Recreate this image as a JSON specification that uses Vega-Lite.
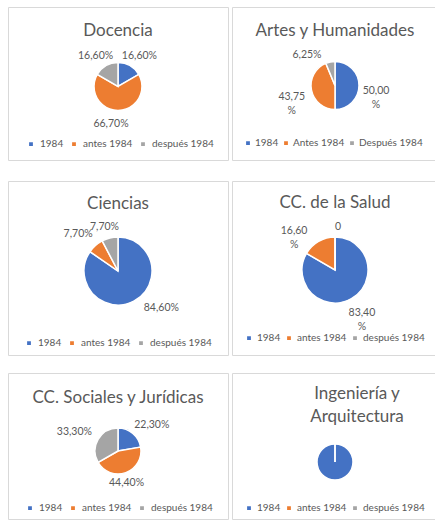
{
  "$schema": "https://vega.github.io/schema/vega-lite/v6.json",
  "background": "white",
  "padding": {"left": 7, "top": 6, "right": 0, "bottom": 0},
  "config": {
    "font": "Lato",
    "view": {"stroke": "#d9d9d9", "strokeWidth": 1},
    "style": {"cell": {"stroke": "#d9d9d9", "strokeWidth": 1}},
    "concat": {"spacing": 2},
    "title": {"fontSize": 17, "fontWeight": "normal", "color": "#595959", "anchor": "middle", "baseline": "middle", "frame": "group"},
    "legend": {"orient": "none", "direction": "horizontal", "title": null, "symbolType": "square", "symbolSize": 28, "symbolStrokeWidth": 0, "labelFontSize": 10, "labelColor": "#595959", "labelOffset": 4, "columnPadding": 4},
    "text": {"fontSize": 10.5, "color": "#595959", "lineBreak": "\n", "lineHeight": 14},
    "arc": {"stroke": "white", "strokeWidth": 1.5}
  },
  "data": {"values": [
    {"panel": "Docencia", "cat": "1984", "value": 16.6, "label": "16,60%"},
    {"panel": "Docencia", "cat": "antes 1984", "value": 66.7, "label": "66,70%"},
    {"panel": "Docencia", "cat": "después 1984", "value": 16.6, "label": "16,60%"},
    {"panel": "Artes", "cat": "1984", "value": 50, "label": "50,00\n%"},
    {"panel": "Artes", "cat": "Antes 1984", "value": 43.75, "label": "43,75\n%"},
    {"panel": "Artes", "cat": "Después 1984", "value": 6.25, "label": "6,25%"},
    {"panel": "Ciencias", "cat": "1984", "value": 84.6, "label": "84,60%"},
    {"panel": "Ciencias", "cat": "antes 1984", "value": 7.7, "label": "7,70%"},
    {"panel": "Ciencias", "cat": "después 1984", "value": 7.7, "label": "7,70%"},
    {"panel": "Salud", "cat": "1984", "value": 83.4, "label": "83,40\n%"},
    {"panel": "Salud", "cat": "antes 1984", "value": 16.6, "label": "16,60\n%"},
    {"panel": "Salud", "cat": "después 1984", "value": 0, "label": "0"},
    {"panel": "Sociales", "cat": "1984", "value": 22.3, "label": "22,30%"},
    {"panel": "Sociales", "cat": "antes 1984", "value": 44.4, "label": "44,40%"},
    {"panel": "Sociales", "cat": "después 1984", "value": 33.3, "label": "33,30%"},
    {"panel": "Ingenieria", "cat": "1984", "value": 100, "label": ""},
    {"panel": "Ingenieria", "cat": "antes 1984", "value": 0, "label": ""},
    {"panel": "Ingenieria", "cat": "después 1984", "value": 0, "label": ""}
  ]},
  "spacing": 19,
  "resolve": {"scale": {"color": "independent", "theta": "independent"}, "legend": {"color": "independent"}},
  "vconcat": [
    {
      "resolve": {"scale": {"color": "independent", "theta": "independent"}, "legend": {"color": "independent"}},
      "hconcat": [
        {
          "width": 220, "height": 153,
          "view": {"stroke": "#d9d9d9"},
          "title": {"text": "Docencia", "offset": -33},
          "transform": [{"filter": "datum.panel == 'Docencia'"}],
          "encoding": {"theta": {"field": "value", "type": "quantitative", "stack": true}, "order": {"field": "cat"}},
          "layer": [
            {"mark": {"type": "arc", "outerRadius": 24, "yOffset": 3},
             "encoding": {"color": {"field": "cat", "type": "nominal", "scale": {"domain": ["1984", "antes 1984", "después 1984"], "range": ["#4472C4", "#ED7D31", "#A5A5A5"]}, "legend": {"legendX": 18, "legendY": 132}}}},
            {"mark": {"type": "text", "radius": 37, "yOffset": 3, "dx": 3, "dy": 2},
             "encoding": {"detail": {"field": "cat"}, "text": {"condition": {"test": "datum.cat == '1984'", "field": "label"}, "value": ""}}},
            {"mark": {"type": "text", "radius": 37, "yOffset": 3, "dx": -7},
             "encoding": {"detail": {"field": "cat"}, "text": {"condition": {"test": "lower(datum.cat) == 'antes 1984'", "field": "label"}, "value": ""}}},
            {"mark": {"type": "text", "radius": 37, "yOffset": 3, "dx": -4, "dy": 2},
             "encoding": {"detail": {"field": "cat"}, "text": {"condition": {"test": "lower(datum.cat) == 'después 1984'", "field": "label"}, "value": ""}}}
          ]
        },
        {
          "width": 206, "height": 153,
          "view": {"stroke": "#d9d9d9"},
          "title": {"text": "Artes y Humanidades", "offset": -33},
          "transform": [{"filter": "datum.panel == 'Artes'"}],
          "encoding": {"theta": {"field": "value", "type": "quantitative", "stack": true}, "order": {"field": "cat"}},
          "layer": [
            {"mark": {"type": "arc", "outerRadius": 24, "yOffset": 2},
             "encoding": {"color": {"field": "cat", "type": "nominal", "scale": {"domain": ["1984", "Antes 1984", "Después 1984"], "range": ["#4472C4", "#ED7D31", "#A5A5A5"]}, "legend": {"legendX": 11, "legendY": 131, "labelOffset": 2, "columnPadding": 1}}}},
            {"mark": {"type": "text", "radius": 41, "yOffset": 2, "dy": 5},
             "encoding": {"detail": {"field": "cat"}, "text": {"condition": {"test": "datum.cat == '1984'", "field": "label"}, "value": ""}}},
            {"mark": {"type": "text", "radius": 41, "yOffset": 2, "dx": -3, "dy": 4},
             "encoding": {"detail": {"field": "cat"}, "text": {"condition": {"test": "lower(datum.cat) == 'antes 1984'", "field": "label"}, "value": ""}}},
            {"mark": {"type": "text", "radius": 41, "yOffset": 2, "dx": -20, "dy": 10},
             "encoding": {"detail": {"field": "cat"}, "text": {"condition": {"test": "lower(datum.cat) == 'después 1984'", "field": "label"}, "value": ""}}}
          ]
        }
      ]
    },
    {
      "spacing": 16,
      "resolve": {"scale": {"color": "independent", "theta": "independent"}, "legend": {"color": "independent"}},
      "vconcat": [
        {
          "resolve": {"scale": {"color": "independent", "theta": "independent"}, "legend": {"color": "independent"}},
          "hconcat": [
            {
              "width": 220, "height": 174,
              "view": {"stroke": "#d9d9d9"},
              "title": {"text": "Ciencias", "offset": -32},
              "transform": [{"filter": "datum.panel == 'Ciencias'"}],
              "encoding": {"theta": {"field": "value", "type": "quantitative", "stack": true}, "order": {"field": "cat"}},
              "layer": [
                {"mark": {"type": "arc", "outerRadius": 34, "yOffset": 3},
                 "encoding": {"color": {"field": "cat", "type": "nominal", "scale": {"domain": ["1984", "antes 1984", "después 1984"], "range": ["#4472C4", "#ED7D31", "#A5A5A5"]}, "legend": {"legendX": 16, "legendY": 157}}}},
                {"mark": {"type": "text", "radius": 48, "yOffset": 3, "dx": 21, "dy": -5},
                 "encoding": {"detail": {"field": "cat"}, "text": {"condition": {"test": "datum.cat == '1984'", "field": "label"}, "value": ""}}},
                {"mark": {"type": "text", "radius": 48, "yOffset": 3, "dx": -8, "dy": -1},
                 "encoding": {"detail": {"field": "cat"}, "text": {"condition": {"test": "lower(datum.cat) == 'antes 1984'", "field": "label"}, "value": ""}}},
                {"mark": {"type": "text", "radius": 48, "yOffset": 3, "dx": -2, "dy": 3},
                 "encoding": {"detail": {"field": "cat"}, "text": {"condition": {"test": "lower(datum.cat) == 'después 1984'", "field": "label"}, "value": ""}}}
              ]
            },
            {
              "width": 206, "height": 174,
              "view": {"stroke": "#d9d9d9"},
              "title": {"text": "CC. de la Salud", "offset": -31},
              "transform": [{"filter": "datum.panel == 'Salud'"}],
              "encoding": {"theta": {"field": "value", "type": "quantitative", "stack": true}, "order": {"field": "cat"}},
              "layer": [
                {"mark": {"type": "arc", "outerRadius": 33, "yOffset": 2},
                 "encoding": {"color": {"field": "cat", "type": "nominal", "scale": {"domain": ["1984", "antes 1984", "después 1984"], "range": ["#4472C4", "#ED7D31", "#A5A5A5"]}, "legend": {"legendX": 12, "legendY": 152, "labelOffset": 3, "columnPadding": 2}}}},
                {"mark": {"type": "text", "radius": 48, "yOffset": 2, "dx": 3, "dy": 1},
                 "encoding": {"detail": {"field": "cat"}, "text": {"condition": {"test": "datum.cat == '1984'", "field": "label"}, "value": ""}}},
                {"mark": {"type": "text", "radius": 48, "yOffset": 2, "dx": -17, "dy": 3},
                 "encoding": {"detail": {"field": "cat"}, "text": {"condition": {"test": "lower(datum.cat) == 'antes 1984'", "field": "label"}, "value": ""}}},
                {"mark": {"type": "text", "radius": 48, "yOffset": 2, "dx": 3, "dy": 5},
                 "encoding": {"detail": {"field": "cat"}, "text": {"condition": {"test": "lower(datum.cat) == 'después 1984'", "field": "label"}, "value": ""}}}
              ]
            }
          ]
        },
        {
          "resolve": {"scale": {"color": "independent", "theta": "independent"}, "legend": {"color": "independent"}},
          "hconcat": [
            {
              "width": 220, "height": 146,
              "view": {"stroke": "#d9d9d9"},
              "title": {"text": "CC. Sociales y Jurídicas", "offset": -34},
              "transform": [{"filter": "datum.panel == 'Sociales'"}],
              "encoding": {"theta": {"field": "value", "type": "quantitative", "stack": true}, "order": {"field": "cat"}},
              "layer": [
                {"mark": {"type": "arc", "outerRadius": 23, "yOffset": 5},
                 "encoding": {"color": {"field": "cat", "type": "nominal", "scale": {"domain": ["1984", "antes 1984", "después 1984"], "range": ["#4472C4", "#ED7D31", "#A5A5A5"]}, "legend": {"legendX": 17, "legendY": 130}}}},
                {"mark": {"type": "text", "radius": 40, "yOffset": 5, "dx": 8, "dy": 5},
                 "encoding": {"detail": {"field": "cat"}, "text": {"condition": {"test": "datum.cat == '1984'", "field": "label"}, "value": ""}}},
                {"mark": {"type": "text", "radius": 40, "yOffset": 5, "dx": -5, "dy": -6},
                 "encoding": {"detail": {"field": "cat"}, "text": {"condition": {"test": "lower(datum.cat) == 'antes 1984'", "field": "label"}, "value": ""}}},
                {"mark": {"type": "text", "radius": 40, "yOffset": 5, "dx": -9, "dy": 1},
                 "encoding": {"detail": {"field": "cat"}, "text": {"condition": {"test": "lower(datum.cat) == 'después 1984'", "field": "label"}, "value": ""}}}
              ]
            },
            {
              "width": 206, "height": 146,
              "view": {"stroke": "#d9d9d9"},
              "title": {"text": ["Ingeniería y", "Arquitectura"], "offset": -53, "dx": 22, "lineHeight": 23},
              "transform": [{"filter": "datum.panel == 'Ingenieria'"}],
              "encoding": {"theta": {"field": "value", "type": "quantitative", "stack": true}, "order": {"field": "cat"}},
              "layer": [
                {"mark": {"type": "arc", "outerRadius": 18, "yOffset": 16},
                 "encoding": {"color": {"field": "cat", "type": "nominal", "scale": {"domain": ["1984", "antes 1984", "después 1984"], "range": ["#4472C4", "#ED7D31", "#A5A5A5"]}, "legend": {"legendX": 12, "legendY": 130, "labelOffset": 3, "columnPadding": 2}}}}
              ]
            }
          ]
        }
      ]
    }
  ]
}
